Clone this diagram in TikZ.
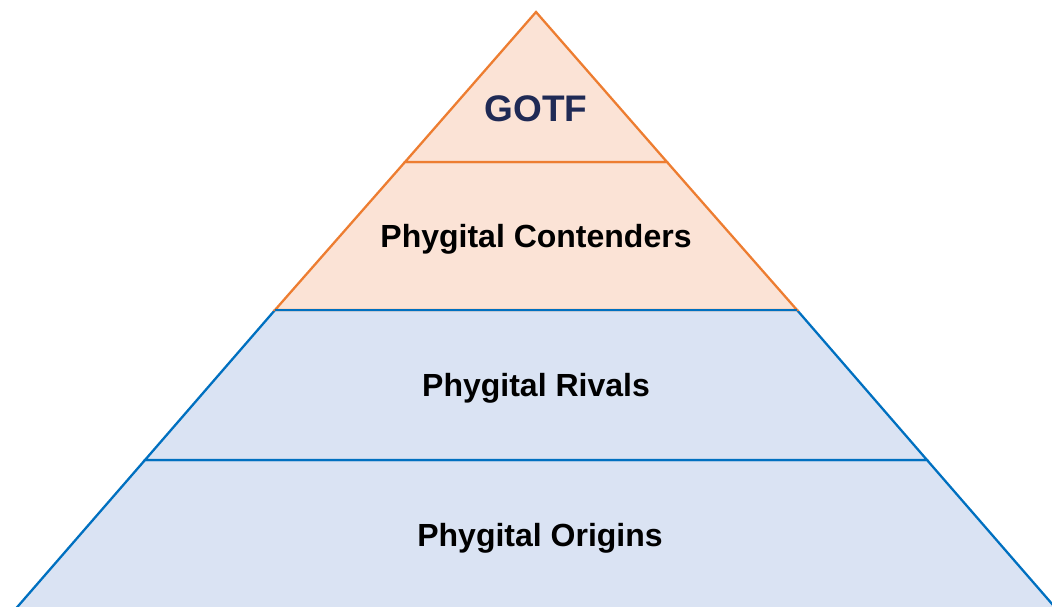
\documentclass[tikz,border=0pt]{standalone}
\usepackage{fontspec}
\setmainfont{Liberation Sans}
\definecolor{orfill}{HTML}{FBE3D6}
\definecolor{orline}{HTML}{ED7D31}
\definecolor{blfill}{HTML}{DAE3F3}
\definecolor{blline}{HTML}{0070C0}
\definecolor{navy}{HTML}{1F2A55}
\tikzset{
  orlayer/.style={fill=orfill, draw=orline, line width=2.3pt, line join=miter},
  bllayer/.style={fill=blfill, draw=blline, line width=2.3pt, line join=miter},
  lbl/.style={anchor=base, inner sep=0pt, font=\fontsize{32pt}{38pt}\selectfont\bfseries, text=black},
  toplbl/.style={anchor=base, inner sep=0pt, font=\fontsize{37pt}{44pt}\selectfont\bfseries, text=navy}
}
\begin{document}
\begin{tikzpicture}[x=1pt,y=-1pt]
\useasboundingbox (0,0) rectangle (1052,607);
\clip (0,0) rectangle (1052,607);
% apex and layer corners
\coordinate (apex) at (536,12);
\coordinate (l1) at (405,162);  \coordinate (r1) at (667,162);
\coordinate (l2) at (275,310);  \coordinate (r2) at (797,310);
\coordinate (l3) at (145,460);  \coordinate (r3) at (927,460);
\coordinate (l4) at (6,620);    \coordinate (r4) at (1066,620);
% layers
\draw[bllayer] (l3) -- (r3) -- (r4) -- (l4) -- cycle;
\draw[bllayer] (l2) -- (r2) -- (r3) -- (l3) -- cycle;
\draw[orlayer] (l1) -- (r1) -- (r2) -- (l2) -- cycle;
\draw[orlayer] (apex) -- (r1) -- (l1) -- cycle;
\draw[blline, line width=2.3pt] (l2) -- (r2);
% labels
\node[toplbl] (gotf) at (536,122) {GOTF};
\node[lbl] (cont) at (536,247) {Phygital Contenders};
\node[lbl] (riv) at (536,396) {Phygital Rivals};
\node[lbl] (orig) at (540,546) {Phygital Origins};
\end{tikzpicture}
\end{document}
